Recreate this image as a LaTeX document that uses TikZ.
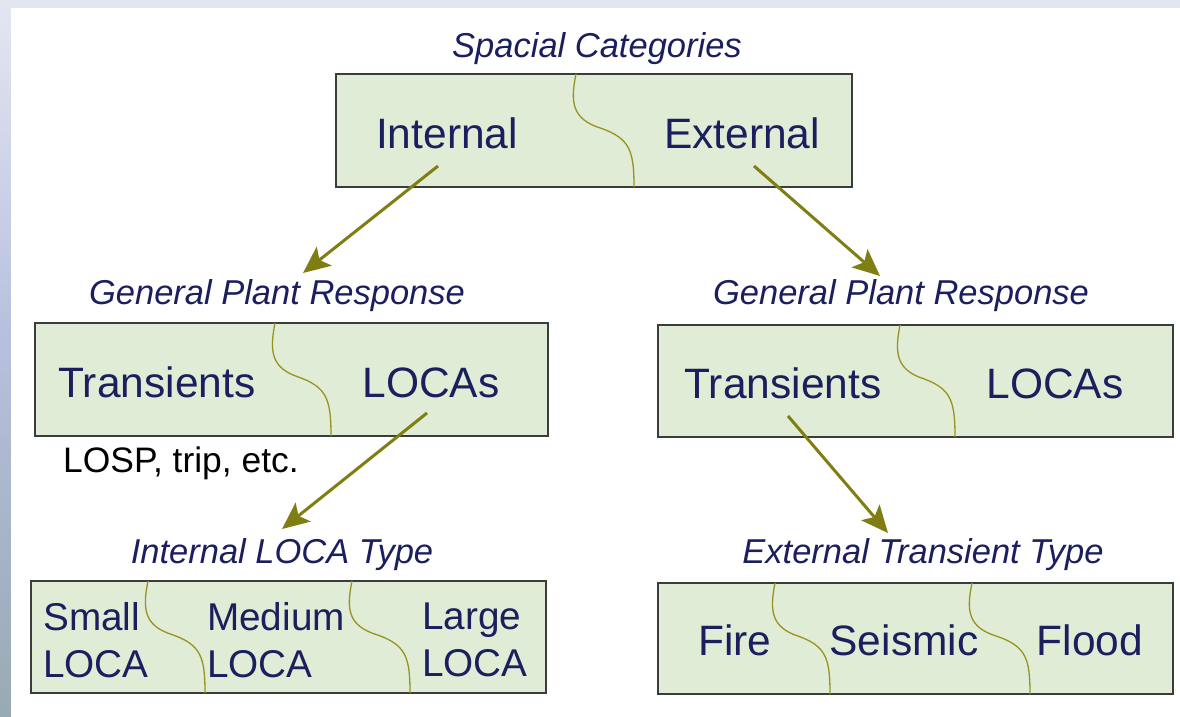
\documentclass[tikz,border=0pt]{standalone}
\usepackage{fontspec}
\setmainfont{Liberation Sans}
\usetikzlibrary{arrows.meta}
\definecolor{navy}{RGB}{27,31,94}
\definecolor{boxfill}{RGB}{224,236,214}
\definecolor{boxline}{RGB}{60,60,60}
\definecolor{arrowcol}{RGB}{128,126,18}
\definecolor{divcol}{RGB}{150,148,30}
\definecolor{bgtop}{RGB}{228,231,242}
\definecolor{bgmid}{RGB}{184,192,222}
\definecolor{bgbot}{RGB}{152,170,180}
\tikzset{
  catbox/.style={draw=boxline, fill=boxfill, line width=1.6pt},
  divline/.style={draw=divcol, line width=1.3pt},
  lbl/.style={text=navy, font=\fontsize{34.5}{40}\selectfont\itshape, inner sep=0pt, anchor=base},
  big/.style={text=navy, font=\fontsize{42.5}{48}\selectfont, inner sep=0pt, anchor=base},
  mid/.style={text=navy, font=\fontsize{38.7}{45}\selectfont, inner sep=0pt, anchor=base west},
  note/.style={text=black, font=\fontsize{35.4}{40}\selectfont, inner sep=0pt, anchor=base west},
  conn/.style={draw=arrowcol, line width=3pt, -{Stealth[length=27pt,width=24pt,inset=6pt]}}
}
\newcommand\sdiv[4]{\draw[divline] (#1,#3) .. controls ({#1-0.1*(#2-#1)},{#3+0.25*(#4-#3)}) and ({#1-0.07*(#2-#1)},{#3+0.4*(#4-#3)}) .. ({#1+0.43*(#2-#1)},{#3+0.48*(#4-#3)}) .. controls ({#1+0.93*(#2-#1)},{#3+0.57*(#4-#3)}) and (#2,{#3+0.68*(#4-#3)}) .. (#2,#4);}
\begin{document}
\begin{tikzpicture}[x=1pt,y=-1pt]
\useasboundingbox (0,0) rectangle (1180,717);
% background
\shade[top color=bgtop, bottom color=bgmid] (0,0) rectangle (1180,330);
\shade[top color=bgmid, bottom color=bgbot] (0,330) rectangle (1180,717);
\fill[white] (11,8) rectangle (1180,717);
% boxes
\draw[catbox] (336,74) rectangle (852,187);
\draw[catbox] (35,323) rectangle (548,436);
\draw[catbox] (658,325) rectangle (1173,437);
\draw[catbox] (31,581) rectangle (546,693);
\draw[catbox] (658,583) rectangle (1173,694);
% dividers
\sdiv{576}{634}{74}{187}
\sdiv{275}{331}{323}{436}
\sdiv{900}{955}{325}{437}
\sdiv{148}{205}{581}{693}
\sdiv{352}{410}{581}{693}
\sdiv{775}{830}{583}{694}
\sdiv{972}{1030}{583}{694}
% labels
\node[lbl] (lspace) at (597,57) {Spacial Categories};
\node[lbl] (lgpr1) at (277,304) {General Plant Response};
\node[lbl] (lgpr2) at (901,304) {General Plant Response};
\node[lbl] (lilt) at (282,563) {Internal LOCA Type};
\node[lbl] (lett) at (923,563) {External Transient Type};
% box texts
\node[big] (internal) at (447,148) {Internal};
\node[big] (external) at (742,148) {External};
\node[big] (transL) at (157,397) {Transients};
\node[big] (locaL) at (431,397) {LOCAs};
\node[big] (transR) at (783,398) {Transients};
\node[big] (locaR) at (1055,398) {LOCAs};
\node[note] (losp) at (63,472) {LOSP, trip, etc.};
\node[mid] (small1) at (43,630) {Small};
\node[mid] (small2) at (43,677) {LOCA};
\node[mid] (medium1) at (207,630) {Medium};
\node[mid] (medium2) at (207,677) {LOCA};
\node[mid] (large1) at (422,629) {Large};
\node[mid] (large2) at (422,676) {LOCA};
\node[big] (fire) at (735,655) {Fire};
\node[big] (seismic) at (904,655) {Seismic};
\node[big] (flood) at (1090,655) {Flood};
% connectors
\coordinate (a1s) at (438,166); \coordinate (a1e) at (303,273);
\coordinate (a2s) at (754,166); \coordinate (a2e) at (880,276);
\coordinate (a3s) at (427,413); \coordinate (a3e) at (282,529);
\coordinate (a4s) at (788,416); \coordinate (a4e) at (888,533);
\draw[conn] (a1s) -- (a1e);
\draw[conn] (a2s) -- (a2e);
\draw[conn] (a3s) -- (a3e);
\draw[conn] (a4s) -- (a4e);
\end{tikzpicture}
\end{document}
